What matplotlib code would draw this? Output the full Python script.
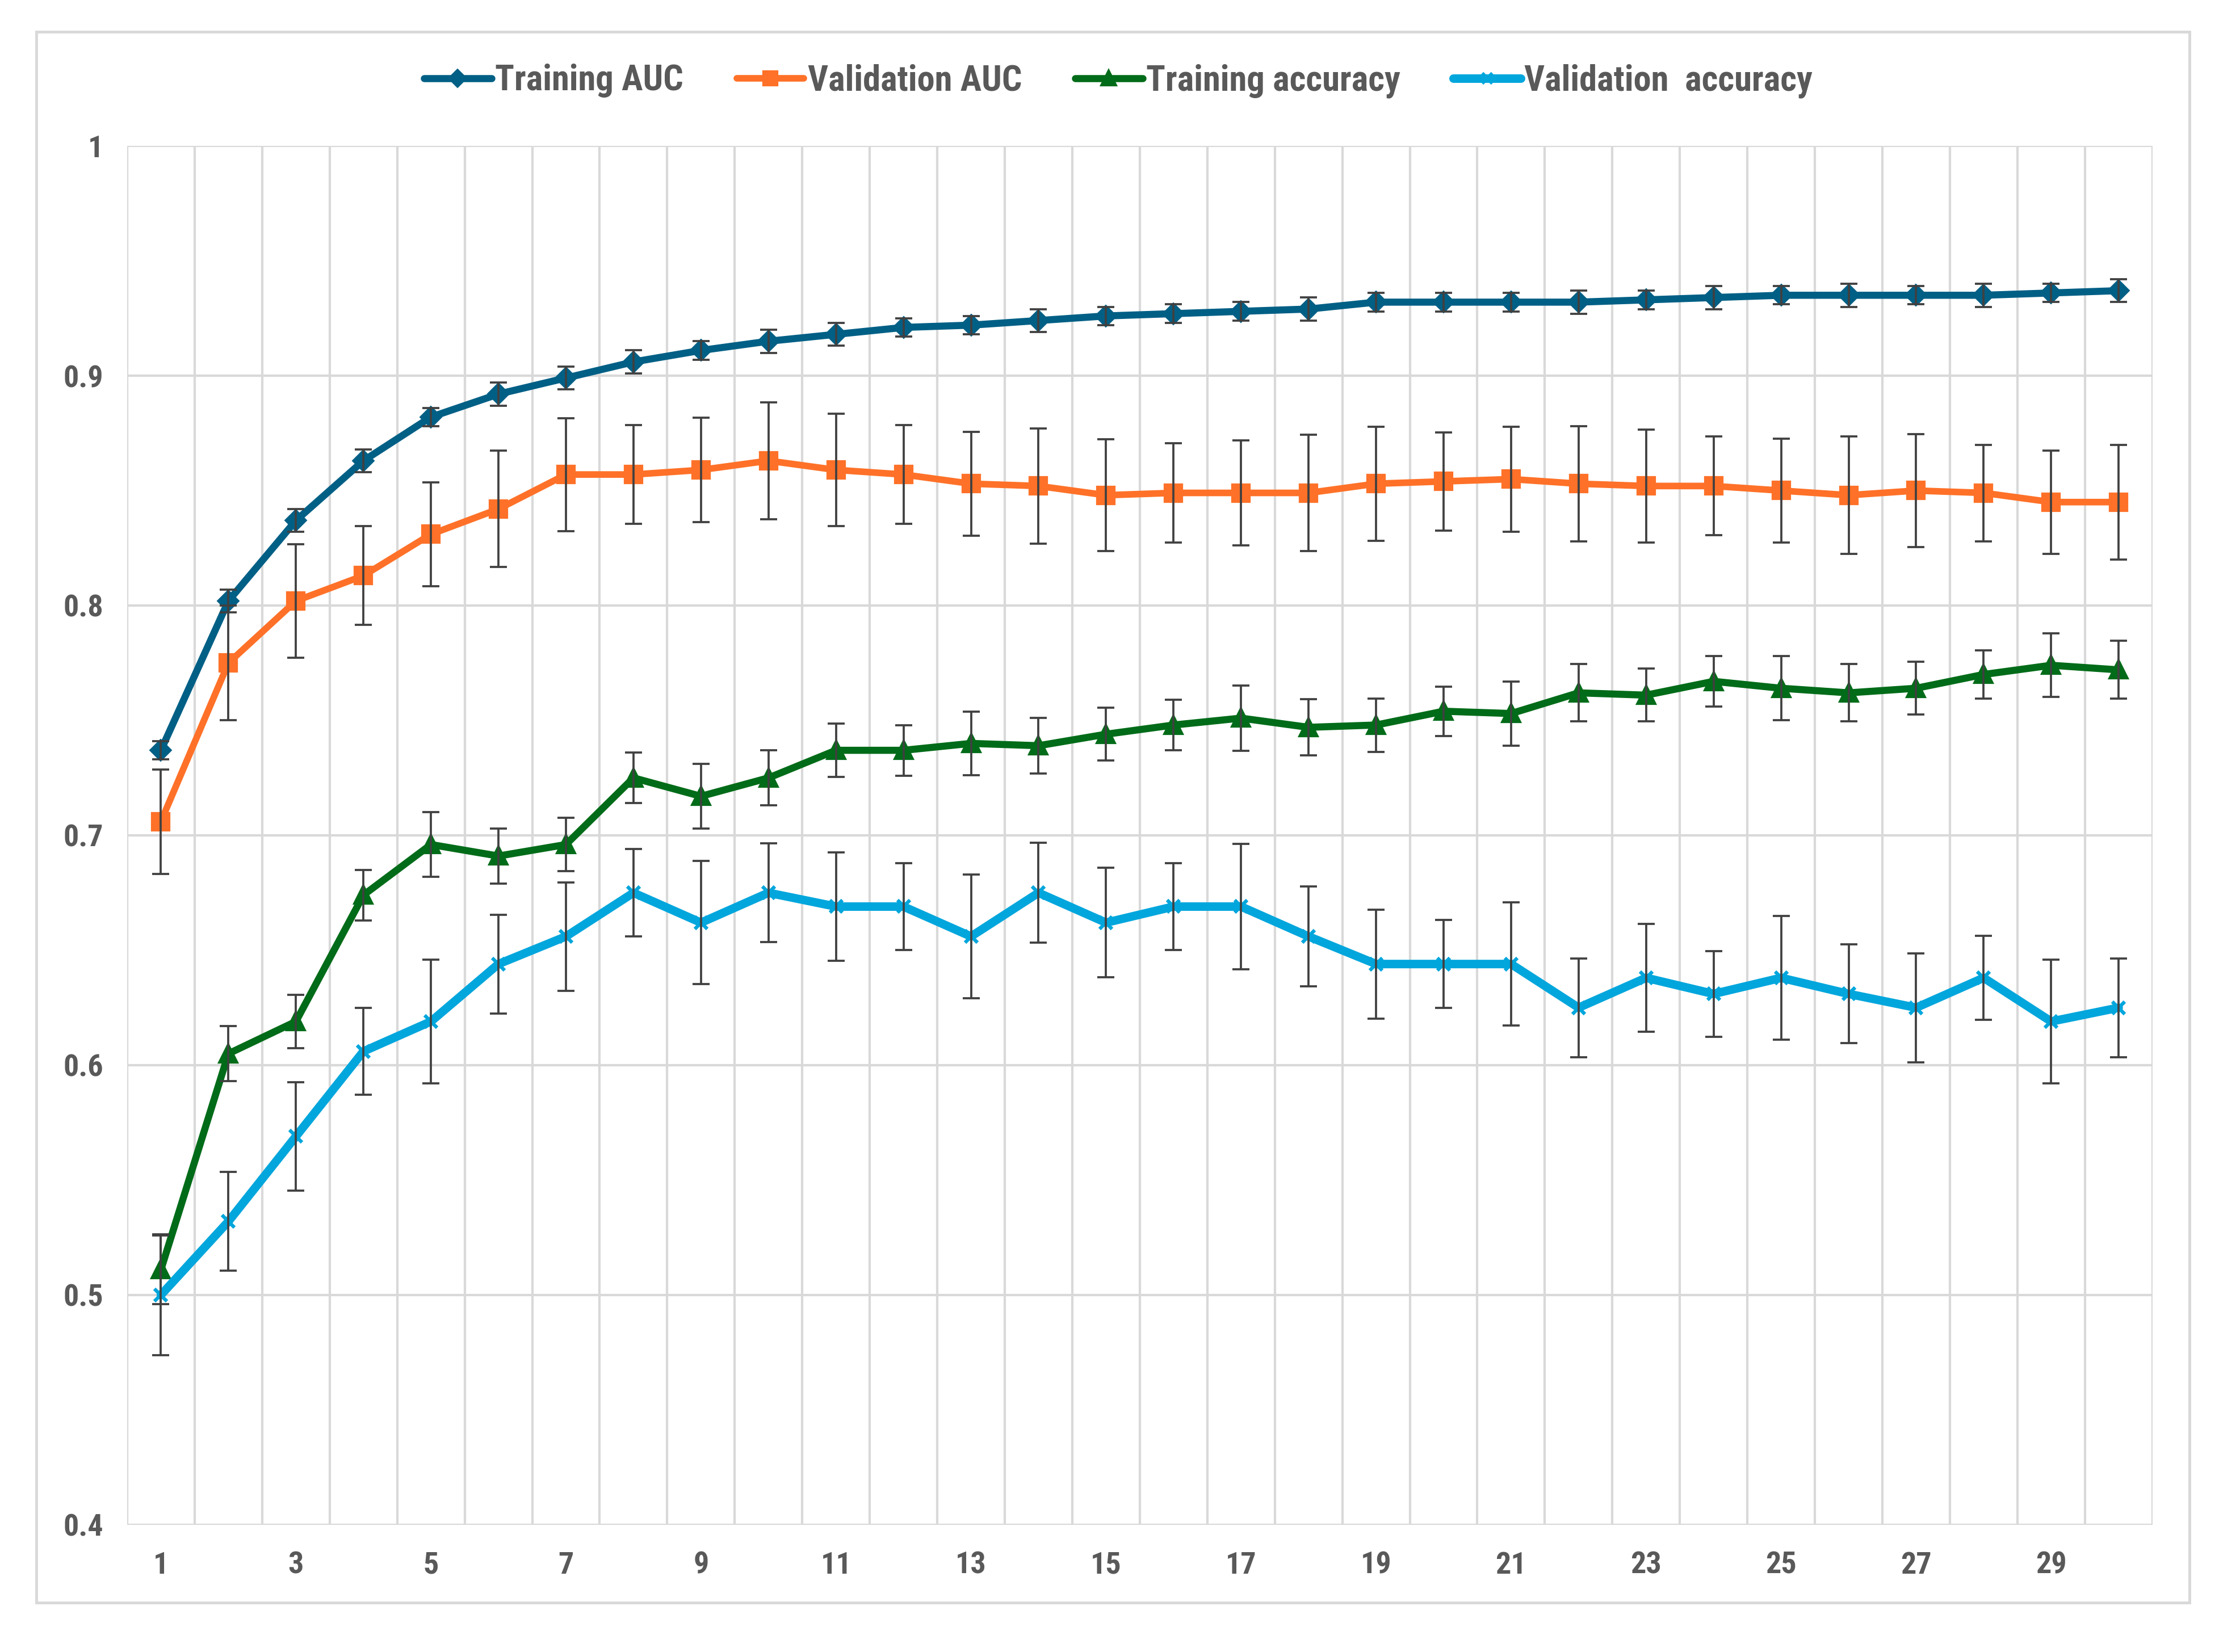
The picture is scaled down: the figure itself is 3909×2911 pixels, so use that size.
import numpy as np
import matplotlib
matplotlib.use("Agg")
import matplotlib.pyplot as plt
from matplotlib import font_manager
from matplotlib.patches import Rectangle

# === DATA ===
epochs = list(range(1, 31))

train_auc = [0.737, 0.802, 0.837, 0.863, 0.882, 0.892, 0.899, 0.906, 0.911, 0.915,
             0.918, 0.921, 0.922, 0.924, 0.926, 0.927, 0.928, 0.929, 0.932, 0.932,
             0.932, 0.932, 0.933, 0.934, 0.935, 0.935, 0.935, 0.935, 0.936, 0.937]
train_auc_err = [0.004, 0.005, 0.005, 0.005, 0.004, 0.005, 0.005, 0.005, 0.004, 0.005,
                 0.005, 0.004, 0.004, 0.005, 0.004, 0.004, 0.004, 0.005, 0.004, 0.004,
                 0.004, 0.005, 0.004, 0.005, 0.004, 0.005, 0.004, 0.005, 0.004, 0.005]

val_auc = [0.706, 0.775, 0.802, 0.813, 0.831, 0.842, 0.857, 0.857, 0.859, 0.863,
           0.859, 0.857, 0.853, 0.852, 0.848, 0.849, 0.849, 0.849, 0.853, 0.854,
           0.855, 0.853, 0.852, 0.852, 0.850, 0.848, 0.850, 0.849, 0.845, 0.845]
val_auc_err = [0.0227, 0.025, 0.0246, 0.0215, 0.0227, 0.0253, 0.0246, 0.0215, 0.0228, 0.0254,
               0.0244, 0.0215, 0.0226, 0.0251, 0.0244, 0.0215, 0.0228, 0.0253, 0.0248, 0.0213,
               0.0229, 0.025, 0.0245, 0.0215, 0.0225, 0.0255, 0.0245, 0.021, 0.0225, 0.025]

train_acc = [0.511, 0.605, 0.619, 0.674, 0.696, 0.691, 0.696, 0.725, 0.717, 0.725,
             0.737, 0.737, 0.740, 0.739, 0.744, 0.748, 0.751, 0.747, 0.748, 0.754,
             0.753, 0.762, 0.761, 0.767, 0.764, 0.762, 0.764, 0.770, 0.774, 0.772]
train_acc_err = [0.015, 0.012, 0.0117, 0.011, 0.014, 0.012, 0.0116, 0.011, 0.014, 0.012,
                 0.0116, 0.011, 0.0138, 0.0122, 0.0115, 0.0109, 0.0141, 0.0123, 0.0116, 0.0108,
                 0.0139, 0.0125, 0.0115, 0.0109, 0.014, 0.0125, 0.0115, 0.0105, 0.0138, 0.0126]

val_acc = [0.500, 0.532, 0.569, 0.606, 0.619, 0.644, 0.656, 0.675, 0.662, 0.675,
           0.669, 0.669, 0.656, 0.675, 0.662, 0.669, 0.669, 0.656, 0.644, 0.644,
           0.644, 0.625, 0.638, 0.631, 0.638, 0.631, 0.625, 0.638, 0.619, 0.625]
val_acc_err = [0.0263, 0.0215, 0.0235, 0.0189, 0.0268, 0.0215, 0.0236, 0.019, 0.0268, 0.0215,
               0.0237, 0.019, 0.027, 0.0218, 0.0238, 0.019, 0.0272, 0.0218, 0.0237, 0.0192,
               0.0268, 0.0215, 0.0235, 0.0187, 0.0268, 0.0215, 0.0237, 0.0182, 0.027, 0.0215]

series_labels = ["Training AUC", "Validation AUC", "Training accuracy", "Validation  accuracy"]
y_ticks = [0.4, 0.5, 0.6, 0.7, 0.8, 0.9, 1.0]
y_tick_labels = ["0.4", "0.5", "0.6", "0.7", "0.8", "0.9", "1"]
x_ticks = list(range(1, 31, 2))

# === FONT: condensed face if one is installed ===
installed = {f.name for f in font_manager.fontManager.ttflist}
family = None
for cand in ["Roboto Condensed", "Liberation Sans Narrow", "Open Sans Condensed", "Liberation Sans"]:
    if cand in installed:
        family = cand
        break
plt.rcParams['font.family'] = [family, 'DejaVu Sans'] if family else ['DejaVu Sans']
plt.rcParams['font.weight'] = 'semibold'

TEXT_GRAY = "#595959"
GRID_GRAY = "#d9d9d9"
ERR_GRAY = "#404040"

fig = plt.figure(figsize=(3909 / 300, 2911 / 300), dpi=300)
ax = fig.add_axes([0.0573, 0.0770, 0.9127, 0.8347])

# outer chart border
fig.patches.append(Rectangle((0.0163, 0.0299), 0.9704, 0.9508, transform=fig.transFigure,
                             fill=False, edgecolor=GRID_GRAY, linewidth=1.2, zorder=0))

styles = [
    (train_auc, train_auc_err, "#005f85", "D", 5.5, 3.0),
    (val_auc, val_auc_err, "#ff7128", "s", 6.5, 2.8),
    (train_acc, train_acc_err, "#006b18", "^", 6.5, 3.0),
    (val_acc, val_acc_err, "#00a6dc", "x", 5.5, 3.6),
]

handles = []
for i, (vals, errs, color, mk, ms, lw) in enumerate(styles):
    line, = ax.plot(epochs, vals, color=color, linewidth=lw, marker=mk, markersize=ms,
                    markerfacecolor=color, markeredgecolor=color, markeredgewidth=1.5,
                    solid_capstyle='round', zorder=3 + 2 * i, label=series_labels[i])
    ax.errorbar(epochs, vals, yerr=errs, fmt='none', ecolor=ERR_GRAY, elinewidth=0.9,
                capsize=3.6, capthick=0.9, zorder=4 + 2 * i)
    handles.append(line)

ax.set_xlim(0.5, 30.5)
ax.set_ylim(0.4, 1.0)
ax.set_yticks(y_ticks)
ax.set_yticklabels(y_tick_labels)
ax.set_xticks(x_ticks)
ax.set_xticklabels([str(v) for v in x_ticks])
ax.set_xticks(np.arange(0.5, 31, 1.0), minor=True)

ax.grid(True, axis='y', which='major', color=GRID_GRAY, linewidth=1.0, zorder=0)
ax.grid(True, axis='x', which='minor', color=GRID_GRAY, linewidth=1.0, zorder=0)
ax.set_axisbelow(True)
for s in ax.spines.values():
    s.set_visible(False)
ax.tick_params(axis='both', which='both', length=0, labelsize=13, labelcolor=TEXT_GRAY)
ax.tick_params(axis='y', pad=10)
ax.tick_params(axis='x', pad=11)

leg = fig.legend(handles=handles, labels=series_labels, loc='center', ncol=4,
                 bbox_to_anchor=(0.504, 0.951), frameon=False, fontsize=15,
                 handlelength=1.9, handletextpad=0.1, columnspacing=1.5,
                 markerscale=0.8)
for t in leg.get_texts():
    t.set_color(TEXT_GRAY)

fig.savefig("out.png", dpi=300)
